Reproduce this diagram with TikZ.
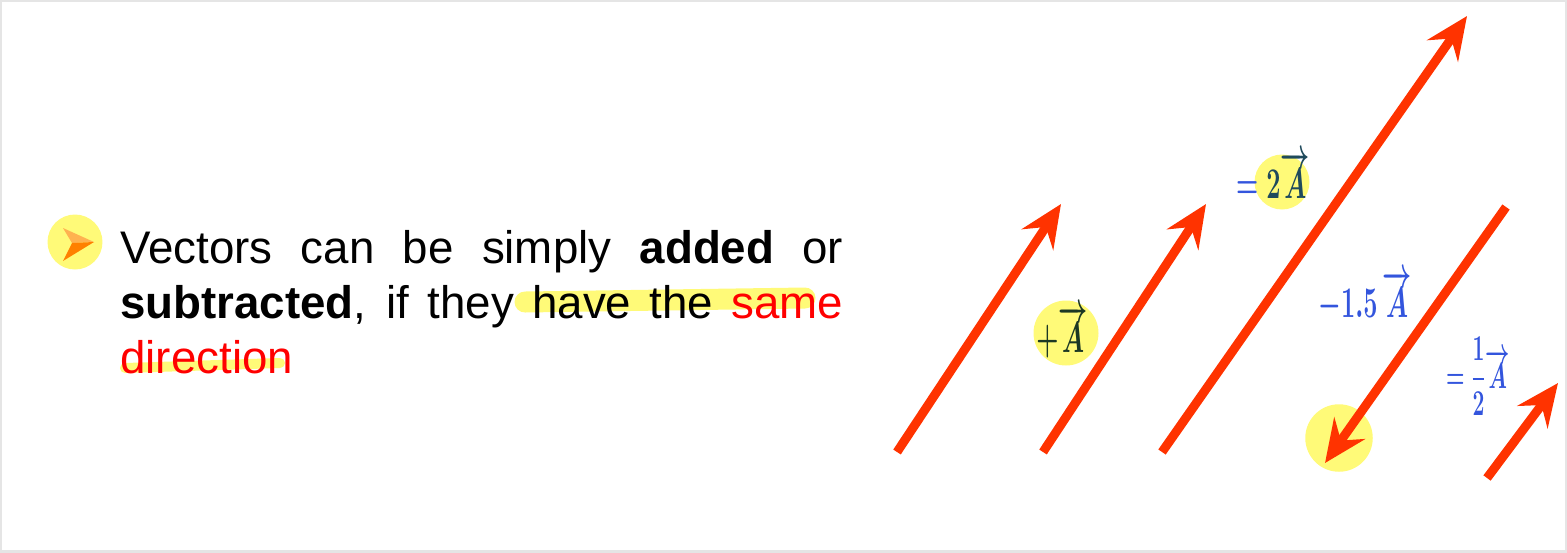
\documentclass[tikz,border=0pt]{standalone}
\usepackage[no-math]{fontspec}
\usepackage{amsmath}
\setmainfont{Liberation Sans}
\usetikzlibrary{arrows.meta}
\definecolor{vecred}{RGB}{255,51,0}
\definecolor{labblue}{RGB}{51,85,221}
\definecolor{hlyellow}{RGB}{255,250,120}
\definecolor{darkteal}{RGB}{31,74,92}
\definecolor{darkgrn}{RGB}{28,56,36}
\definecolor{bulorange}{RGB}{255,128,0}
\definecolor{bullight}{RGB}{255,178,80}
\newcommand{\cond}[1]{\scalebox{0.58}[1]{$#1$}}
\begin{document}
\begin{tikzpicture}[x=0.02cm, y=-0.02cm,
  vec/.style={vecred, line width=0.18cm, -{Stealth[length=0.85cm, width=0.75cm, inset=0.3cm]}},
  hl/.style={hlyellow, line cap=round, line width=#1},
  blob/.style={circle, fill=hlyellow, inner sep=0pt, minimum size=#1},
  lab/.style={labblue, inner sep=0pt, font=\fontsize{31}{31}\selectfont\boldmath},
  txt/.style={anchor=north west, inner sep=0pt, text width=14.46cm, align=justify, font=\fontsize{26}{31.2}\selectfont}
]
\useasboundingbox (0,0) rectangle (1567,552);
\draw[gray!20, line width=0.08cm] (0,0) rectangle (1567,552);

% highlights
\node[blob=1.1cm] (hlbul) at (75,242) {};
\coordinate (hla) at (525,302);
\coordinate (hlb) at (805,298);
\draw[hl=0.42cm] (hla) -- (hlb);
\coordinate (hlc) at (125,368);
\coordinate (hld) at (280,363);
\draw[hl=0.2cm] (hlc) -- (hld);
\node[blob=1.3cm] (hlplus) at (1066,333) {};
\node[blob=1.1cm] (hltwo) at (1282,182) {};
\node[blob=1.35cm] (hltip) at (1339,438) {};

% bullet
\fill[bullight] (63,228) -- (94,242) -- (72,243) -- cycle;
\fill[bulorange] (72,243) -- (94,242) -- (63,261) -- cycle;

\node[txt] (text) at (120,230) {Vectors can be simply \textbf{added} or\linebreak
  \textbf{subtracted}, if they have the \textcolor{red}{same}\linebreak
  \textcolor{red}{direction}};

% vectors
\coordinate (t1) at (897,452);
\coordinate (h1) at (1061,204);
\coordinate (t2) at (1043,452);
\coordinate (h2) at (1206,204);
\coordinate (t3) at (1162,452);
\coordinate (h3) at (1467,16);
\coordinate (t4) at (1506,207);
\coordinate (h4) at (1325,463);
\coordinate (t5) at (1487,478);
\coordinate (h5) at (1558,383);
\draw[vec] (t1) -- (h1);
\draw[vec] (t2) -- (h2);
\draw[vec] (t3) -- (h3);
\draw[vec] (t4) -- (h4);
\draw[vec] (t5) -- (h5);

% labels
\node[lab, anchor=base] (plusA) at (1062,352) {\cond{\color{darkgrn}\boldsymbol{+}\overrightarrow{A}}};
\node[lab, anchor=base] (twoA) at (1273,198) {\cond{\boldsymbol{=}{\color{darkteal}2\overrightarrow{A}}}};
\node[lab, anchor=base, font=\fontsize{35}{35}\selectfont\boldmath] (minusA) at (1365,317) {\cond{-1.5\,\overrightarrow{A}}};
\node[lab, anchor=base, font=\fontsize{21.6}{22}\selectfont\boldmath] (halfA) at (1478,388) {\cond{\boldsymbol{=}\dfrac{1}{2}\overrightarrow{A}}};
\end{tikzpicture}
\end{document}
